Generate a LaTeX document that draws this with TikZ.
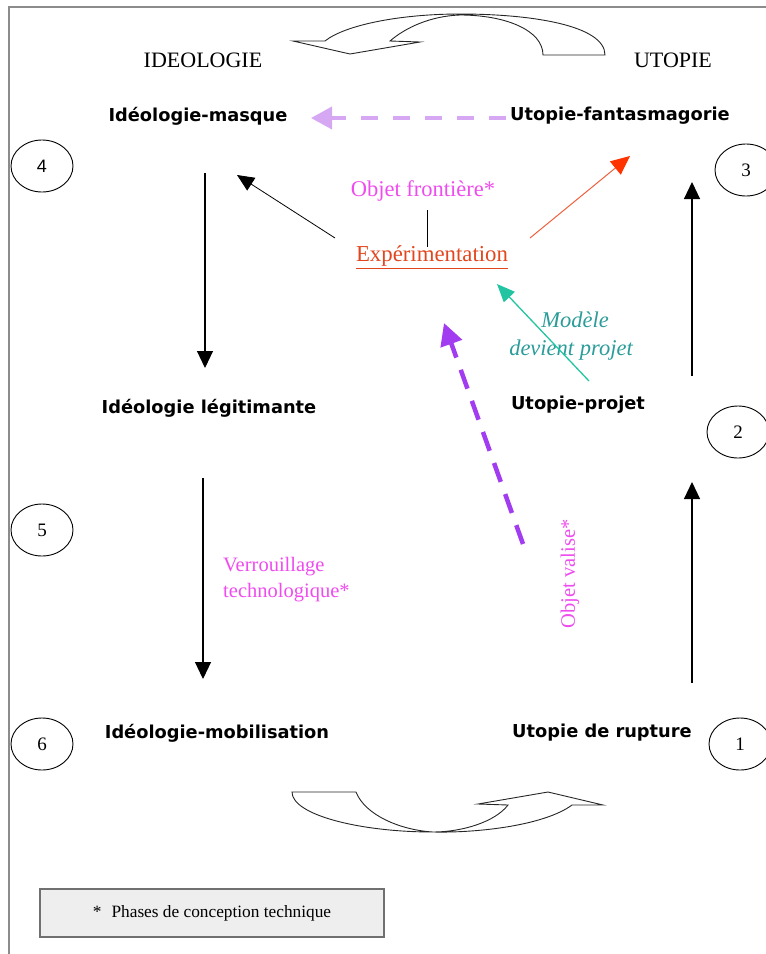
\documentclass[tikz,border=0pt]{standalone}
\usepackage{fontspec}
\setmainfont{Liberation Serif}
\newfontfamily\lblfont{DejaVu Sans}
\newfontfamily\digfont{Liberation Sans}
\usetikzlibrary{arrows.meta,shapes.geometric}
\definecolor{framegray}{HTML}{8C8C8C}
\definecolor{lavender}{HTML}{D6A8F4}
\definecolor{violetd}{HTML}{A23CF0}
\definecolor{magentat}{HTML}{EE4CEE}
\definecolor{expred}{HTML}{E2461E}
\definecolor{redline}{HTML}{F0603E}
\definecolor{redtip}{HTML}{FF3300}
\definecolor{tealline}{HTML}{22C4A2}
\definecolor{tealtext}{HTML}{2A9C9A}
\definecolor{legfill}{HTML}{EEEEEE}
\definecolor{legdraw}{HTML}{707070}
\tikzset{
  lbl/.style={font=\lblfont\bfseries\fontsize{17.8}{20}\selectfont, inner sep=0pt},
  ser/.style={font=\fontsize{22}{24}\selectfont, inner sep=0pt},
  numc/.style={draw, ellipse, minimum width=62pt, minimum height=52pt, inner sep=0pt, line width=0.9pt, font=\fontsize{19}{20}\selectfont},
  blk/.style={-{Triangle[width=16pt,length=17pt]}, line width=1.1pt},
  curvarrow/.style={draw=black!85, line width=0.9pt, line join=miter},
}
\begin{document}
\begin{tikzpicture}[x=1pt,y=-1pt]
\useasboundingbox (0,0) rectangle (766,954);
% frame
\draw[framegray, line width=2pt] (9,954) -- (9,7) -- (766,7);

% headings
\node[ser] (ideo) at (203,60) {IDEOLOGIE};
\node[ser] (utop) at (673,60) {UTOPIE};

% main labels
\node[lbl] (masque) at (198,116) {Idéologie-masque};
\node[lbl] (fanta) at (620,116) {Utopie-fantasmagorie};
\node[lbl] (legit) at (209,408) {Idéologie légitimante};
\node[lbl] (projet) at (578,405) {Utopie-projet};
\node[lbl] (mobil) at (217,733) {Idéologie-mobilisation};
\node[lbl] (rupt) at (602,733) {Utopie de rupture};

% centre texts
\node[ser, text=magentat, font=\fontsize{22.5}{24}\selectfont] (front) at (423,191) {Objet frontière*};
\node[ser, text=expred, font=\fontsize{22.8}{24}\selectfont] (exper) at (432,257) {\underline{Expérimentation}};
\node[ser, text=tealtext, font=\itshape\fontsize{22.5}{28}\selectfont, align=center] (modele) at (571,336) {\hspace*{8pt}Modèle\\devient projet};
\node[ser, text=magentat, align=left, anchor=west, font=\fontsize{20.5}{26}\selectfont] (verrou) at (223,580) {Verrouillage\\technologique*};
\node[ser, text=magentat, rotate=90, font=\fontsize{20.5}{24}\selectfont] (valise) at (570,574) {Objet valise*};

% numbered circles
\node[numc, font=\digfont\fontsize{18}{20}\selectfont] (c4) at (42,166) {4};
\node[numc] (c3) at (746,170) {3};
\node[numc] (c2) at (738,432) {2};
\node[numc] (c5) at (42,530) {5};
\node[numc] (c6) at (42,744) {6};
\node[numc] (c1) at (740,744) {1};

% legend
\node[draw=legdraw, fill=legfill, line width=1.5pt, minimum width=344pt, minimum height=48pt, inner sep=0pt,
      font=\fontsize{17.3}{20}\selectfont] (legend) at (212,913) {*\hspace{10pt}Phases de conception technique};

% connector end points
\coordinate (a1s) at (205,173);  \coordinate (a1e) at (205,368);
\coordinate (a2s) at (203,478);  \coordinate (a2e) at (203,679);
\coordinate (a3s) at (692,683);  \coordinate (a3e) at (692,482);
\coordinate (a4s) at (692,376);  \coordinate (a4e) at (692,182);
\coordinate (lavs) at (506,118); \coordinate (lave) at (311,118);
\coordinate (bls) at (335,238);  \coordinate (ble) at (237,175);
\coordinate (rds) at (530,238);  \coordinate (rde) at (630,156);
\coordinate (tls) at (589,381);  \coordinate (tle) at (497,284);
\coordinate (vis) at (523,544);  \coordinate (vie) at (444,323);
\coordinate (frb) at (427,210);  \coordinate (ext) at (427,247);

% black vertical arrows
\draw[blk] (a1s) -- (a1e);
\draw[blk] (a2s) -- (a2e);
\draw[blk] (a3s) -- (a3e);
\draw[blk] (a4s) -- (a4e);

% lavender dashed arrow
\draw[lavender, line width=3.8pt, dash pattern=on 17pt off 15pt, -{Triangle[width=22pt,length=21pt]}] (lavs) -- (lave);

% thin black diagonal arrow
\draw[line width=0.8pt, -{Triangle[width=15pt,length=17pt]}] (bls) -- (ble);

% objet frontiere link
\draw[line width=1pt] (frb) -- (ext);

% red arrow
\draw[redline, line width=1pt, -{Triangle[width=17pt,length=19pt,color=redtip]}] (rds) -- (rde);

% teal arrow
\draw[tealline, line width=1.3pt, -{Triangle[width=15pt,length=18pt]}] (tls) -- (tle);

% violet dashed arrow
\draw[violetd, line width=4.5pt, dash pattern=on 20pt off 13pt, -{Triangle[width=22pt,length=22pt]}] (vis) -- (vie);

% top curved arrow
\draw[curvarrow] (543,55) -- (605,55)
  .. controls (605,25) and (530,14) .. (460,14)
  .. controls (400,14) and (345,25) .. (325,41)
  -- (293,41) -- (350,54) -- (420,42) -- (390,41)
  .. controls (405,28) and (430,16) .. (460,15)
  .. controls (505,15) and (543,30) .. (543,55) -- cycle;

% bottom curved arrow
\draw[curvarrow] (292,792) -- (356,792)
  .. controls (365,815) and (400,830) .. (433,832)
  .. controls (462,832) and (495,822) .. (508,805)
  -- (478,804) -- (548,792) -- (603,805) -- (572,805)
  .. controls (545,825) and (480,833) .. (433,832)
  .. controls (360,832) and (292,815) .. (292,792) -- cycle;
\end{tikzpicture}
\end{document}
